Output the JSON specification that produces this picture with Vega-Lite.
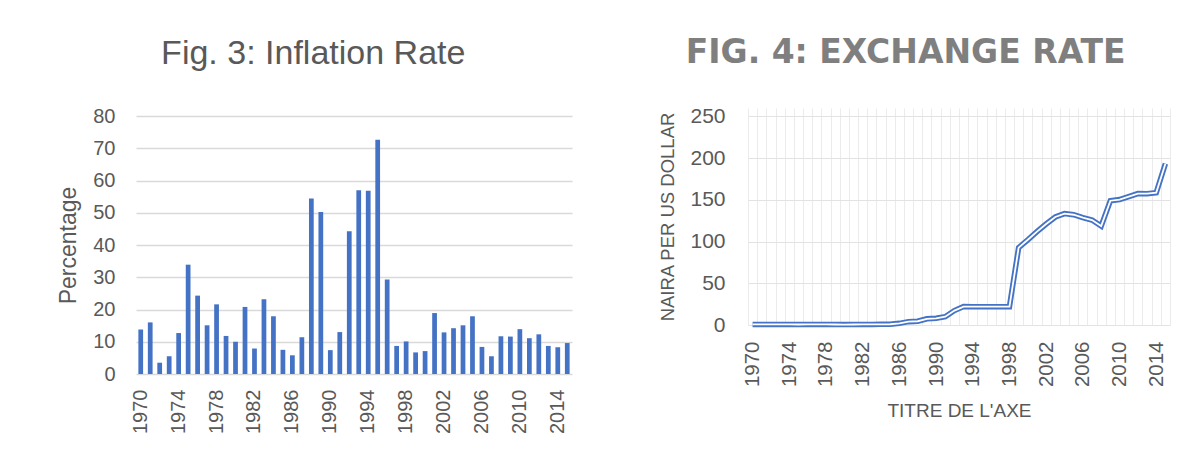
{
  "$schema": "https://vega.github.io/schema/vega-lite/v6.json",
  "background": "white",
  "padding": {"left": 57, "top": 37, "right": 5, "bottom": 5},
  "spacing": 81,
  "config": {
    "view": {"stroke": null},
    "font": "Liberation Sans",
    "axis": {"labelColor": "#595959", "titleColor": "#595959", "labelFont": "Liberation Sans", "titleFont": "Liberation Sans", "titleFontWeight": "normal", "domain": false, "ticks": false}
  },
  "datasets": {
    "inflation": [
      {"year": 1970, "rate": 13.8}, {"year": 1971, "rate": 16.0}, {"year": 1972, "rate": 3.5}, {"year": 1973, "rate": 5.5},
      {"year": 1974, "rate": 12.7}, {"year": 1975, "rate": 33.9}, {"year": 1976, "rate": 24.3}, {"year": 1977, "rate": 15.1},
      {"year": 1978, "rate": 21.6}, {"year": 1979, "rate": 11.8}, {"year": 1980, "rate": 10.0}, {"year": 1981, "rate": 20.8},
      {"year": 1982, "rate": 7.9}, {"year": 1983, "rate": 23.2}, {"year": 1984, "rate": 17.9}, {"year": 1985, "rate": 7.5},
      {"year": 1986, "rate": 5.8}, {"year": 1987, "rate": 11.4}, {"year": 1988, "rate": 54.4}, {"year": 1989, "rate": 50.2},
      {"year": 1990, "rate": 7.4}, {"year": 1991, "rate": 13.0}, {"year": 1992, "rate": 44.3}, {"year": 1993, "rate": 57.0},
      {"year": 1994, "rate": 56.8}, {"year": 1995, "rate": 72.6}, {"year": 1996, "rate": 29.3}, {"year": 1997, "rate": 8.7},
      {"year": 1998, "rate": 10.1}, {"year": 1999, "rate": 6.7}, {"year": 2000, "rate": 7.1}, {"year": 2001, "rate": 18.9},
      {"year": 2002, "rate": 12.9}, {"year": 2003, "rate": 14.2}, {"year": 2004, "rate": 15.1}, {"year": 2005, "rate": 17.9},
      {"year": 2006, "rate": 8.4}, {"year": 2007, "rate": 5.5}, {"year": 2008, "rate": 11.7}, {"year": 2009, "rate": 11.6},
      {"year": 2010, "rate": 13.9}, {"year": 2011, "rate": 11.1}, {"year": 2012, "rate": 12.3}, {"year": 2013, "rate": 8.7},
      {"year": 2014, "rate": 8.3}, {"year": 2015, "rate": 9.6}
    ],
    "exchange": [
      {"year": 1970, "naira": 0.71}, {"year": 1971, "naira": 0.71}, {"year": 1972, "naira": 0.66}, {"year": 1973, "naira": 0.66},
      {"year": 1974, "naira": 0.63}, {"year": 1975, "naira": 0.62}, {"year": 1976, "naira": 0.63}, {"year": 1977, "naira": 0.65},
      {"year": 1978, "naira": 0.64}, {"year": 1979, "naira": 0.6}, {"year": 1980, "naira": 0.55}, {"year": 1981, "naira": 0.62},
      {"year": 1982, "naira": 0.67}, {"year": 1983, "naira": 0.72}, {"year": 1984, "naira": 0.77}, {"year": 1985, "naira": 0.89},
      {"year": 1986, "naira": 2.0}, {"year": 1987, "naira": 4.0}, {"year": 1988, "naira": 4.5}, {"year": 1989, "naira": 7.4},
      {"year": 1990, "naira": 8.0}, {"year": 1991, "naira": 9.9}, {"year": 1992, "naira": 17.3}, {"year": 1993, "naira": 22.1},
      {"year": 1994, "naira": 21.9}, {"year": 1995, "naira": 21.9}, {"year": 1996, "naira": 21.9}, {"year": 1997, "naira": 21.9},
      {"year": 1998, "naira": 21.9}, {"year": 1999, "naira": 92.7}, {"year": 2000, "naira": 102.1}, {"year": 2001, "naira": 111.9},
      {"year": 2002, "naira": 121.0}, {"year": 2003, "naira": 129.4}, {"year": 2004, "naira": 133.5}, {"year": 2005, "naira": 132.1},
      {"year": 2006, "naira": 128.7}, {"year": 2007, "naira": 125.8}, {"year": 2008, "naira": 118.6}, {"year": 2009, "naira": 148.9},
      {"year": 2010, "naira": 150.3}, {"year": 2011, "naira": 153.9}, {"year": 2012, "naira": 157.5}, {"year": 2013, "naira": 157.3},
      {"year": 2014, "naira": 158.6}, {"year": 2015, "naira": 193.3}
    ]
  },
  "hconcat": [
    {
      "width": 436,
      "height": 266,
      "data": {"name": "inflation"},
      "title": {"text": "Fig. 3: Inflation Rate", "font": "Liberation Sans", "fontSize": 34, "fontWeight": "normal", "color": "#595959", "anchor": "middle", "frame": "bounds", "offset": 35, "dx": -4},
      "mark": {"type": "bar", "color": "#4472C4", "width": {"band": 0.5}},
      "encoding": {
        "x": {
          "field": "year", "type": "ordinal",
          "scale": {"paddingInner": 0, "paddingOuter": 0},
          "axis": {"title": null, "labelAngle": -90, "labelFontSize": 20, "labelPadding": 15, "labelExpr": "(datum.value - 1970) % 4 === 0 ? datum.label : ''", "grid": false}
        },
        "y": {
          "field": "rate", "type": "quantitative",
          "scale": {"domain": [0, 80], "range": [266, 8]},
          "axis": {"title": "Percentage", "titleFontSize": 23, "labelFontSize": 20, "labelPadding": 21, "titlePadding": 12, "values": [0, 10, 20, 30, 40, 50, 60, 70, 80], "gridColor": "#d9d9d9", "gridWidth": 1.3}
        }
      }
    },
    {
      "width": 422,
      "height": 217,
      "data": {"name": "exchange"},
      "title": {"text": "FIG. 4: EXCHANGE RATE", "font": "DejaVu Sans", "fontSize": 33, "fontWeight": "bold", "color": "#7f7f7f", "anchor": "middle", "frame": "bounds", "offset": 35, "dx": -12},
      "layer": [
        {
          "mark": {"type": "line", "color": "#4472C4", "strokeWidth": 5.5},
          "encoding": {
            "x": {
              "field": "year", "type": "ordinal", "bandPosition": 0.5,
              "scale": {"type": "band", "paddingInner": 0, "paddingOuter": 0},
              "axis": {"title": "TITRE DE L'AXE", "titleFontSize": 19, "titlePadding": 15, "labelAngle": -90, "labelFontSize": 20.5, "labelPadding": 16, "labelExpr": "(datum.value - 1970) % 4 === 0 ? datum.label : ''", "grid": true, "tickBand": "extent", "gridColor": "#ebebeb"}
            },
            "y": {
              "field": "naira", "type": "quantitative",
              "scale": {"domain": [0, 250]},
              "axis": {"title": "NAIRA PER US DOLLAR", "titleFontSize": 18.5, "labelFontSize": 21, "labelPadding": 23, "titlePadding": 12, "values": [0, 50, 100, 150, 200, 250], "gridColor": "#e3e3e3"}
            }
          }
        },
        {
          "mark": {"type": "line", "color": "white", "strokeWidth": 1.8},
          "encoding": {
            "x": {"field": "year", "type": "ordinal", "bandPosition": 0.5},
            "y": {"field": "naira", "type": "quantitative"}
          }
        }
      ]
    }
  ]
}
